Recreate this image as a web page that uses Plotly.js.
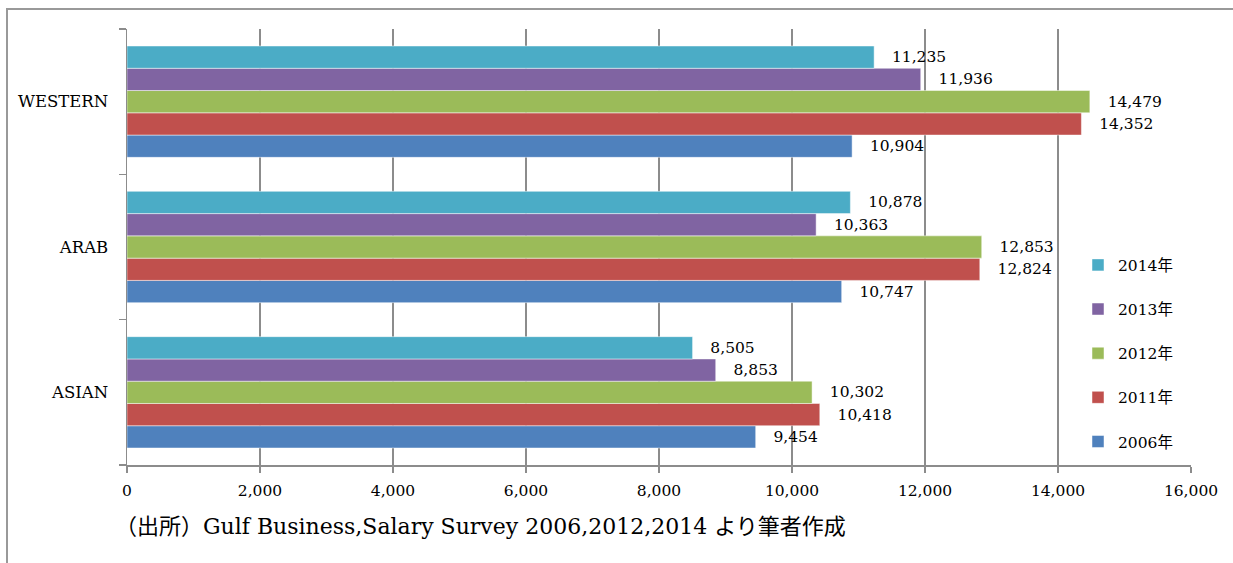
<!DOCTYPE html>
<html>
<head>
<meta charset="utf-8">
<script src="https://cdn.plot.ly/plotly-3.0.1.min.js"></script>
<style>
  html, body { margin: 0; padding: 0; background: #fff; }
  #wrap { position: relative; width: 1233px; height: 563px; overflow: hidden; }
  #frame { position: absolute; left: 6px; top: 8px; width: 1240px; height: 600px;
           border-left: 2px solid #999; border-top: 2px solid #999; pointer-events: none; }
  #chart { position: absolute; left: 0; top: 0; width: 1233px; height: 563px; }
</style>
</head>
<body>
<div id="wrap">
  <div id="chart"></div>
  <div id="frame"></div>
</div>
<script>
const categories = ["ASIAN", "ARAB", "WESTERN"];
const seriesNames = ["2006年", "2011年", "2012年", "2013年", "2014年"];
const v2006 = [9454, 10747, 10904];
const v2011 = [10418, 12824, 14352];
const v2012 = [10302, 12853, 14479];
const v2013 = [8853, 10363, 11936];
const v2014 = [8505, 10878, 11235];
const xTickVals = [0, 2000, 4000, 6000, 8000, 10000, 12000, 14000, 16000];
const sourceText = "（出所）Gulf Business,Salary Survey 2006,2012,2014 より筆者作成";

const seriesValues = [v2006, v2011, v2012, v2013, v2014];
const colors = ["#4F81BD", "#C0504D", "#9BBB59", "#8064A2", "#4BACC6"];
const FONT = "DejaVu Serif, 'Noto Sans CJK JP', serif";

const traces = seriesNames.map((name, i) => ({
  type: "bar",
  orientation: "h",
  name: name,
  legendgroup: "g" + i,
  legendrank: 1000 + (seriesNames.length - i),
  y: categories,
  x: seriesValues[i],
  marker: { color: colors[i], line: { color: "rgba(255,255,255,0.6)", width: 0.8 } },
  texttemplate: "\u00a0\u00a0\u00a0%{x:,}",
  textposition: "outside",
  constraintext: "none",
  cliponaxis: false,
  textfont: { family: FONT, size: 15.5, color: "#000" },
  hoverinfo: "skip"
}));

const layout = {
  width: 1233, height: 563,
  margin: { l: 127, r: 42, t: 29, b: 98 },
  paper_bgcolor: "rgba(0,0,0,0)",
  plot_bgcolor: "rgba(0,0,0,0)",
  barmode: "group",
  bargap: 0.234,
  bargroupgap: 0,
  font: { family: FONT, size: 15.5, color: "#000" },
  xaxis: {
    range: [0, 16000],
    tickvals: xTickVals,
    tickformat: ",",
    showgrid: true, gridcolor: "#8c8c8c", gridwidth: 1.5,
    zeroline: false,
    showline: true, linecolor: "#8c8c8c", linewidth: 1.5,
    ticks: "outside", ticklen: 6, tickcolor: "#8c8c8c", tickwidth: 1.5,
    ticklabelstandoff: 5,
    tickfont: { family: FONT, size: 15.5, color: "#000" },
    fixedrange: true
  },
  yaxis: {
    type: "category",
    categoryorder: "array", categoryarray: categories,
    showgrid: false, zeroline: false,
    showline: true, linecolor: "#8c8c8c", linewidth: 1.5,
    ticks: "outside", ticklen: 7, tickcolor: "#8c8c8c", tickwidth: 1.5,
    tickson: "boundaries",
    ticklabelstandoff: 14,
    tickfont: { family: FONT, size: 16.5, color: "#000" },
    fixedrange: true
  },
  showlegend: true,
  legend: {
    x: 0.8938, y: 0.497, xanchor: "left", yanchor: "top",
    traceorder: "grouped",
    tracegroupgap: 21,
    bgcolor: "rgba(0,0,0,0)",
    itemwidth: 30,
    font: { family: FONT, size: 15.5, color: "#000" }
  },
  annotations: [{
    text: sourceText,
    xref: "paper", yref: "paper",
    x: -0.0132, y: -0.14, xanchor: "left", yanchor: "middle",
    showarrow: false,
    font: { family: FONT, size: 22, color: "#000" }
  }]
};

Plotly.newPlot("chart", traces, layout, { displayModeBar: false, staticPlot: true });
</script>
</body>
</html>
